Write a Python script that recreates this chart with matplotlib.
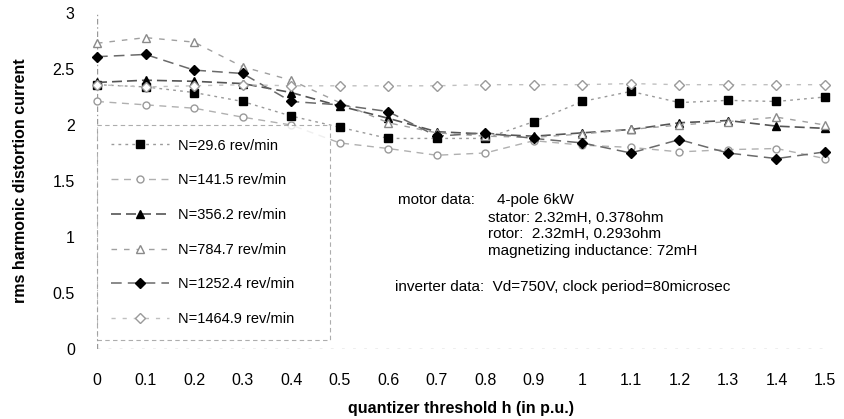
import matplotlib
matplotlib.use("Agg")
import matplotlib.pyplot as plt

plt.rcParams['font.family'] = ['Liberation Sans', 'DejaVu Sans']

h = [0, 0.1, 0.2, 0.3, 0.4, 0.5, 0.6, 0.7, 0.8, 0.9, 1.0, 1.1, 1.2, 1.3, 1.4, 1.5]
n29_6 = [2.36, 2.34, 2.29, 2.21, 2.08, 1.98, 1.88, 1.88, 1.88, 2.03, 2.21, 2.30, 2.20, 2.22, 2.21, 2.25]
n141_5 = [2.21, 2.18, 2.15, 2.07, 2.00, 1.84, 1.79, 1.73, 1.75, 1.86, 1.82, 1.80, 1.76, 1.78, 1.79, 1.70]
n356_2 = [2.38, 2.40, 2.39, 2.37, 2.29, 2.17, 2.06, 1.94, 1.92, 1.90, 1.93, 1.96, 2.02, 2.04, 1.99, 1.97]
n784_7 = [2.73, 2.78, 2.74, 2.52, 2.40, 2.20, 2.02, 1.93, 1.90, 1.89, 1.92, 1.96, 2.00, 2.03, 2.07, 2.00]
n1252_4 = [2.61, 2.63, 2.49, 2.46, 2.21, 2.18, 2.12, 1.90, 1.93, 1.88, 1.84, 1.75, 1.87, 1.75, 1.70, 1.76]
n1464_9 = [2.36, 2.34, 2.35, 2.36, 2.35, 2.35, 2.35, 2.35, 2.36, 2.36, 2.36, 2.37, 2.36, 2.36, 2.36, 2.36]

labels = ["N=29.6 rev/min", "N=141.5 rev/min", "N=356.2 rev/min",
          "N=784.7 rev/min", "N=1252.4 rev/min", "N=1464.9 rev/min"]
series = [n29_6, n141_5, n356_2, n784_7, n1252_4, n1464_9]
styles = [
    dict(marker='s', mfc='black', mec='black', ms=6, color='#9a9a9a', ls=(0, (2, 3)), lw=1.0),
    dict(marker='o', mfc='white', mec='#9a9a9a', ms=5, color='#b0b0b0', ls=(0, (5, 4)), lw=1.0),
    dict(marker='^', mfc='black', mec='black', ms=6, color='#555555', ls=(0, (6, 3)), lw=1.2),
    dict(marker='^', mfc='white', mec='#8a8a8a', ms=6, color='#a0a0a0', ls=(0, (4, 5)), lw=1.0),
    dict(marker='D', mfc='black', mec='black', ms=5, color='#6a6a6a', ls=(0, (7, 4)), lw=1.1),
    dict(marker='D', mfc='white', mec='#9a9a9a', ms=5, color='#c0c0c0', ls=(0, (3, 5)), lw=1.0),
]

fig = plt.figure(figsize=(8.45, 4.19), dpi=100)
ax = fig.add_axes([97/845, 1-349/419, (825-97)/845, (349-13)/419])

for ys, lab, st in zip(series, labels, styles):
    ax.plot(h, ys, label=lab, clip_on=False, **st)

ax.set_xlim(0, 1.5)
ax.set_ylim(0, 3)
ax.set_xticks(h)
ax.set_xticklabels(["0", "0.1", "0.2", "0.3", "0.4", "0.5", "0.6", "0.7", "0.8", "0.9",
                    "1", "1.1", "1.2", "1.3", "1.4", "1.5"])
ax.set_yticks([0, 0.5, 1, 1.5, 2, 2.5, 3])
ax.set_yticklabels(["0", "0.5", "1", "1.5", "2", "2.5", "3"])
ax.tick_params(axis='x', length=0, labelsize=11.5, pad=17.5)
ax.tick_params(axis='y', length=0, labelsize=11.5, pad=16)
for s in ax.spines.values():
    s.set_visible(False)
ax.axvline(0, color='#999999', lw=1.0, ls=(0, (4, 2, 1, 2)), zorder=0)
ax.axhline(0, color='#aaaaaa', lw=1.0, ls=(0, (2, 6)), zorder=0)

ax.set_xlabel("quantizer threshold h (in p.u.)", fontsize=11.5, fontweight='bold', labelpad=9)
ax.set_ylabel("rms harmonic distortion current", fontsize=11.5, fontweight='bold', labelpad=18)

leg = ax.legend(loc='lower left', bbox_to_anchor=(0.0, 0.027, 0.32, 0.64), mode='expand',
                frameon=True, fontsize=10.5, handlelength=4.0, labelspacing=1.42,
                borderpad=0.95, borderaxespad=0.0, handletextpad=0.6, fancybox=False)
leg.get_frame().set_edgecolor('#999999')
leg.get_frame().set_linestyle((0, (4, 3)))
leg.get_frame().set_linewidth(0.8)

tk = dict(fontsize=11, transform=ax.transData, va='center', ha='left')
ax.text(0.62, (349-200)/112, "motor data:", **tk)
ax.text(0.825, (349-200)/112, "4-pole 6kW", **tk)
ax.text(0.805, (349-218)/112, "stator: 2.32mH, 0.378ohm", **tk)
ax.text(0.805, (349-234)/112, "rotor:  2.32mH, 0.293ohm", **tk)
ax.text(0.805, (349-251)/112, "magnetizing inductance: 72mH", **tk)
ax.text(0.615, (349-287)/112, "inverter data:  Vd=750V, clock period=80microsec", **tk)

fig.savefig("out.png", dpi=100)
